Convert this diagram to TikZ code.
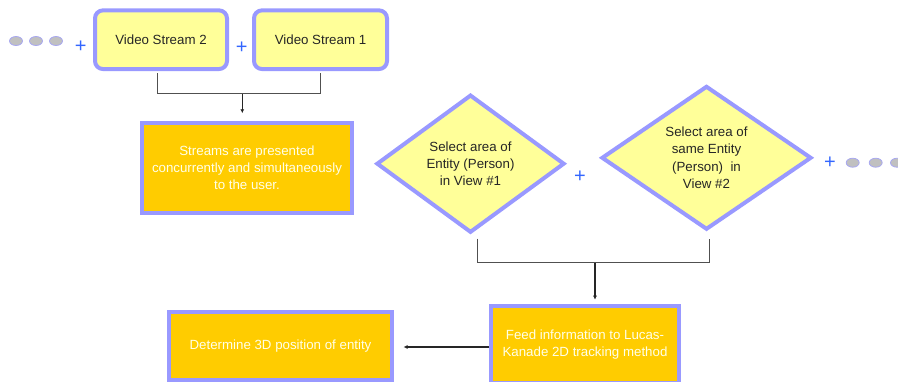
\documentclass[tikz,border=0pt]{standalone}
\usepackage{fontspec}
\setmainfont{Liberation Sans}
\usetikzlibrary{shapes.geometric,arrows.meta,calc}
\definecolor{bord}{HTML}{9999FF}
\definecolor{lyel}{HTML}{FFFF99}
\definecolor{orng}{HTML}{FFCC00}
\definecolor{wtxt}{HTML}{FFFFE8}
\definecolor{plusc}{HTML}{3366FF}
\definecolor{dotc}{HTML}{C0C0C0}
\definecolor{dotb}{HTML}{A8A8F0}
\definecolor{linec}{HTML}{505050}
\tikzset{
  txt/.style={font=\fontsize{13.3}{17.3}\selectfont, align=center, inner sep=0pt},
  ybox/.style={txt, draw=bord, line width=4pt, fill=lyel, rounded corners=8pt, text=black!85},
  obox/.style={txt, draw=bord, line width=4pt, fill=orng, text=wtxt},
  dia/.style={txt, shape=diamond, draw=bord, line width=4pt, fill=lyel, text=black!85},
  plussign/.style={font=\fontsize{20}{20}\selectfont, text=plusc, inner sep=0pt},
  dot/.style={ellipse, draw=dotb, line width=0.8pt, fill=dotc, minimum width=13pt, minimum height=9pt, inner sep=0pt},
  conn/.style={draw=linec, line width=1.3pt},
  arr/.style={draw=black!85, line width=1.1pt, -{Latex[length=4pt,width=4pt]}}
}
\begin{document}
\begin{tikzpicture}[x=1pt,y=-1pt]
\useasboundingbox (0,0) rectangle (898,381);
% top row
\node[dot] (l1) at (16,41) {};
\node[dot] (l2) at (36,41) {};
\node[dot] (l3) at (56,41) {};
\node[plussign] (p1) at (80.7,46.5) {+};
\node[ybox, minimum width=132pt, minimum height=58.7pt] (vs2) at (161,39.7) {Video Stream 2};
\node[plussign] (p2) at (241.7,47.5) {+};
\node[ybox, minimum width=133pt, minimum height=58.7pt] (vs1) at (320.5,39.7) {Video Stream 1};
% streams
\node[obox, minimum width=210pt, minimum height=90.3pt] (streams) at (247,167.9)
  {Streams are presented\\concurrently and simultaneously\\to the user.};
% diamonds
\node[dia, minimum width=188pt, minimum height=138pt] (d1) at (470.5,163.7)
  {Select area of\\Entity (Person)\\in View \#1};
\node[plussign] (p3) at (580,176.7) {+};
\node[dia, minimum width=210pt, minimum height=136pt] (d2) at (706.5,157.8)
  {Select area of\\same Entity\\(Person)\ \ in\\View \#2};
\node[plussign] (p4) at (830,162.7) {+};
\node[dot] (r1) at (852.7,162.7) {};
\node[dot] (r2) at (875.7,162.7) {};
\node[dot] (r3) at (897,162.7) {};
% bottom
\node[obox, minimum width=188pt, minimum height=77pt] (feed) at (585,344.5)
  {Feed information to Lucas-\\Kanade 2D tracking method};
\node[obox, minimum width=223pt, minimum height=68pt] (det) at (280.5,346)
  {Determine 3D position of entity};
% connectors
\coordinate (m1) at (242.3,93.5);
\draw[conn] ([xshift=-3.7pt,yshift=-2pt]vs2.south) |- (m1) -| ([yshift=-2pt]vs1.south);
\draw[arr, shorten >=7.5pt] (m1) -- (m1 |- streams.north);
\coordinate (m2) at (595,262.7);
\draw[conn] ([xshift=6.8pt,yshift=-4pt]d1.south) |- (m2) -| ([xshift=2.8pt,yshift=-7pt]d2.south);
\draw[arr, shorten >=4.3pt] (m2) -- (m2 |- feed.north);
\draw[arr, shorten >=9.5pt] ([yshift=-2.5pt]feed.west) -- ([yshift=-2.5pt]feed.west -| det.east);
\end{tikzpicture}
\end{document}
